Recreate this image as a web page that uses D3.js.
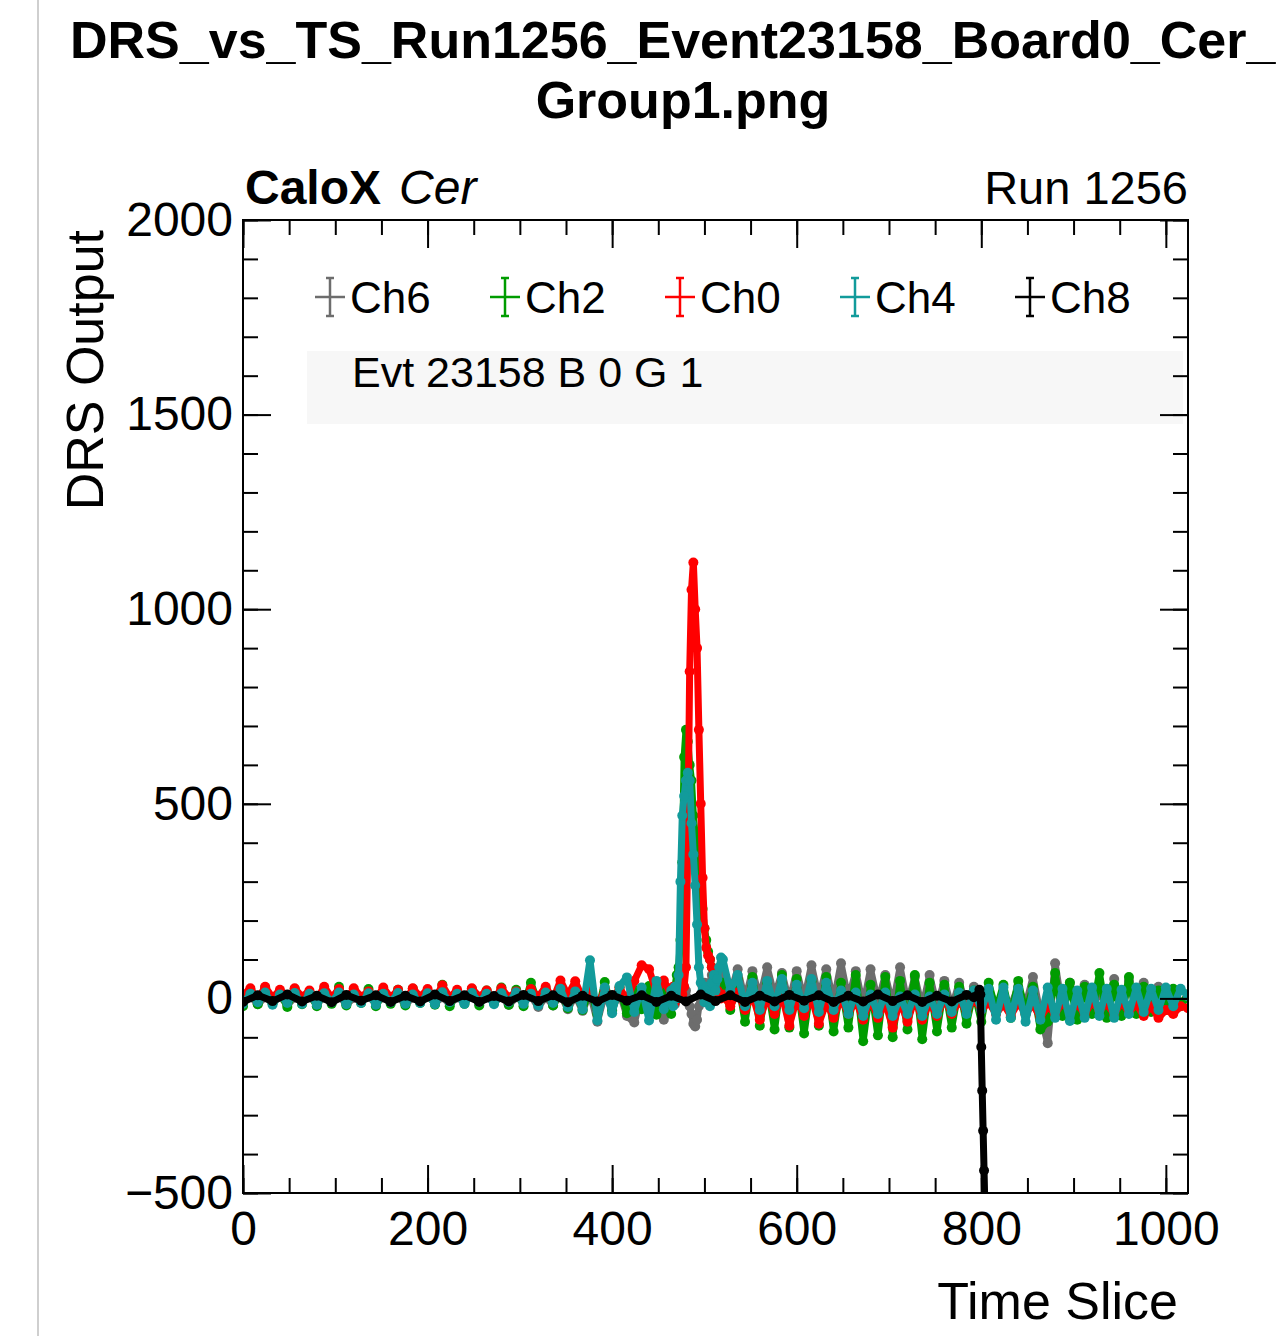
<!DOCTYPE html>
<html>
<head>
<meta charset="utf-8">
<script src="https://cdn.jsdelivr.net/npm/d3@7"></script>
<style>
  body { margin: 0; background: #fff; }
  svg { display: block; font-family: "Liberation Sans", Arial, Helvetica, sans-serif; }
</style>
</head>
<body>
<svg id="chart" width="1286" height="1336"></svg>
<script>
// channels in legend / drawing order
const channels = ["Ch6", "Ch2", "Ch0", "Ch4", "Ch8"];

// time slice grid for the analog channels (finer around the pulse)
const timeSlices = [...d3.range(0, 464, 8), ...d3.range(464, 520, 2), ...d3.range(520, 1025, 8)];

const ch6 = [
  -8, 6, -15, 3, -12, 5, -16, 2, -10, 4, -14, 3, -11, 6, -15, 1, -8, 5, -13, 3,
  -10, 4, -15, 2, -7, 6, -12, 3, -14, 2, -8, 7, -13, 3, -11, 5, -17, 3, -10, 6,
  -22, 4, -18, 10, -28, 8, -32, 15, -60, 12, -30, 18, -45, -62, 8, -28, 12, -55,
  -20, 10, -15, 5, 20, 30, 40, 30, 20, 0, -20, -40, -65, -72, -55, -20, 10, 30, 40, 30,
  20, 40, 60, 70, 50, 30, 50, 70,
  60, 10, 75, -5, 70, 0, 80, 5, 65, -10, 70, -5, 85, 0, 75, -10, 90, -5, 70, -20,
  75, -10, 60, -20, 80, -15, 55, -25, 60, -20, 45, -25, 40, -15, 30, -10, 20, -15, 10, -20,
  30, -20, 55, -40, -115, 90, -30, 40, -20, 35, -30, 20, -25, 50, -40, 45, -30, 40, -10, 30,
  -10, 20, -15, 10
];

const ch2 = [
  -20, 22, -15, 28, -12, 18, -22, 24, -15, 15, -20, 22, -14, 30, -18, 18, -12, 24, -20, 15,
  -14, 22, -18, 25, -12, 18, -16, 35, -20, 16, -14, 24, -18, 20, -12, 28, -16, 22, -20, 40,
  -14, 25, -18, 18, -25, 22, -30, 28, -40, 42, -32, 28, -38, 22, -28, 32, -42, 18,
  -40, 10, 30, 60, 80, 150, 350, 620, 690, 660, 600, 560, 470, 420, 380, 340, 280, 230, 180, 150,
  120, 100, 80, 60, 40, 20, 10, 30,
  40, -30, 50, -60, 55, -70, 40, -80, 60, -75, 50, -90, 45, -70, 55, -85, 40, -75, 60, -110,
  35, -95, 55, -100, 45, -80, 60, -105, 40, -85, 35, -75, 30, -65, 20, -60, 40, -30, 35, -50,
  45, -40, 30, -80, -60, 65, -45, 40, -55, 30, -40, 65, -50, 35, -45, 55, -40, 30, -35, 20,
  -30, 25, -20, 10
];

const ch0 = [
  8, 26, -3, 30, 2, 22, -6, 26, 4, 20, -3, 30, 2, 24, -5, 26, 4, 18, -3, 28,
  2, 22, -6, 26, 4, 24, -3, 34, 2, 22, -5, 26, 4, 20, -3, 26, 2, 18, -6, 24,
  4, 30, -3, 46, 8, 44, 0, 28, -18, 22, -8, 28, -4, 45, 85, 75, 15, 46,
  10, 30, -10, 20, 0, 20, 10, 30, 80, 400, 840, 1050, 1120, 1000, 900, 690, 500, 310, 180, 130,
  110, 100, 80, 60, 40, 20, 10, 0,
  10, -20, 15, -30, 10, -55, 5, -40, 10, -70, 0, -45, 5, -65, -10, -50, 0, -40, -5, -55,
  0, -50, -10, -75, -5, -60, 0, -55, -10, -45, 0, -40, -5, -35, 0, -30, -10, -40, -15, -45,
  -10, -40, -15, -50, -20, -40, -10, -35, -15, -40, -10, -30, -15, -40, -10, -35, -15, -45, -20, -50,
  -30, -40, -20, -25
];

const ch4 = [
  -14, 12, -10, 15, -16, 10, -12, 14, -14, 12, -16, 13, -10, 15, -15, 10, -12, 13, -16, 12,
  -10, 14, -14, 10, -12, 13, -15, 16, -10, 12, -14, 14, -10, 12, -15, 13, -10, 16, -14, 12,
  -18, 15, -12, 25, -22, 18, -28, 98, -57, 28, -38, 32, 54, -35, 28, -57, 45, -28,
  20, -20, 30, 0, 60, 300, 470, 520, 560, 580, 560, 450, 370, 290, 190, 80, 40, 20, -10, 30,
  10, -20, 40, 60, 20, 50, 80, 105,
  100, 20, 60, -20, 40, -30, 45, -20, 50, -30, 35, -25, 50, -35, 40, -30, 20, -40, 15, -45,
  10, -40, 15, -45, 5, -40, 10, -45, 5, -40, 10, -35, 15, -40, 20,
  -30, 25, -55, 28, -50, 25, -60, 20, -55, 28, -50, 25, -58, 20, -50, 28, -45, 25, -50, 22,
  -40, 28, -35, 25, -30, 28, -20, 25, 5
];

// trigger-like channel has its own sampling
const ch8Time = [...d3.range(0, 800, 16), 792, 796, 798, 799, 800, 801, 802, 803, 804, 805, 806, 810, 900, 1024];
const ch8 = [
  -9, 8, -7, 10, -8, 7, -10, 9, -6, 8, -9, 7, -8, 10, -7, 8, -9, 6, -8, 9,
  -7, 8, -10, 7, -8, 9, -6, 8, -9, 7, -8, 10, -7, 8, -9, 7, -8, 9, -6, 8,
  -9, 7, -8, 10, -7, 8, -9, 7, -8, 9,
  3, 8, 22, 10, -125, -237, -340, -442, -545, -650, -750, -800, -800, -800
];

const xTicks = [0, 200, 400, 600, 800, 1000];
const yTicks = [-500, 0, 500, 1000, 1500, 2000];

const series = [
  { name: "Ch6", color: "#6d6d6d", t: timeSlices, v: ch6 },
  { name: "Ch2", color: "#009c00", t: timeSlices, v: ch2 },
  { name: "Ch0", color: "#ff0000", t: timeSlices, v: ch0 },
  { name: "Ch4", color: "#129b9b", t: timeSlices, v: ch4 },
  { name: "Ch8", color: "#000000", t: ch8Time, v: ch8 }
];

const svg = d3.select("#chart");
const frame = { left: 243, right: 1188, top: 220, bottom: 1193 };

const x = d3.scaleLinear().domain([0, 1024]).range([frame.left, frame.right]);
const y = d3.scaleLinear().domain([-500, 2000]).range([frame.bottom, frame.top]);

// canvas edge line on the left
svg.append("line")
  .attr("x1", 38).attr("x2", 38).attr("y1", 0).attr("y2", 1336)
  .attr("stroke", "#cfcfcf").attr("stroke-width", 2);

// title
svg.append("text")
  .attr("x", 70).attr("y", 58)
  .style("font-size", "52px").style("font-weight", "bold")
  .text("DRS_vs_TS_Run1256_Event23158_Board0_Cer_");
svg.append("text")
  .attr("x", 683).attr("y", 118)
  .attr("text-anchor", "middle")
  .style("font-size", "52px").style("font-weight", "bold")
  .text("Group1.png");

// header labels
const head = svg.append("text").attr("x", 245).attr("y", 204).style("font-size", "48px");
head.append("tspan").style("font-weight", "bold").text("CaloX");
head.append("tspan").attr("dx", 18).style("font-style", "italic").text("Cer");
svg.append("text")
  .attr("x", frame.right).attr("y", 204)
  .attr("text-anchor", "end")
  .style("font-size", "47px")
  .text("Run 1256");

// clip for plot area
svg.append("clipPath").attr("id", "plotClip")
  .append("rect")
  .attr("x", frame.left).attr("y", frame.top)
  .attr("width", frame.right - frame.left).attr("height", frame.bottom - frame.top);

// info pave
svg.append("rect")
  .attr("x", 307).attr("y", 351).attr("width", 876).attr("height", 73)
  .attr("fill", "#f7f7f7");
svg.append("text")
  .attr("x", 352).attr("y", 387)
  .style("font-size", "43px")
  .text("Evt 23158 B 0 G 1");

// data
const plot = svg.append("g").attr("clip-path", "url(#plotClip)");
const line = d3.line().x(d => x(d[0])).y(d => y(d[1]));

series.forEach(s => {
  const pts = s.t.map((t, i) => [t, s.v[i]]);
  const g = plot.append("g").attr("class", "series " + s.name);
  g.append("path")
    .datum(pts)
    .attr("d", line)
    .attr("fill", "none")
    .attr("stroke", s.color)
    .attr("stroke-width", 7)
    .attr("stroke-linejoin", "round")
    .attr("stroke-linecap", "round");
  g.selectAll("circle")
    .data(pts)
    .join("circle")
    .attr("cx", d => x(d[0]))
    .attr("cy", d => y(d[1]))
    .attr("r", 5)
    .attr("fill", s.color);
});

// axes (ROOT style: ticks inside on all four sides)
const styleAxis = (g) => {
  g.select(".domain").remove();
  g.selectAll("line").attr("stroke", "#000").attr("stroke-width", 2);
  g.selectAll("text")
    .attr("fill", "#000")
    .style("font-size", "48px")
    .style("font-family", "'Liberation Sans', Arial, Helvetica, sans-serif");
};

const fmt = d3.format("d");
const xMinor = d3.range(0, 1025, 50);
const yMinor = d3.range(-500, 2001, 100);

svg.append("g")
  .attr("transform", `translate(0,${frame.bottom})`)
  .call(d3.axisBottom(x).tickValues(xMinor).tickSize(-15).tickFormat(""))
  .call(styleAxis);
svg.append("g")
  .attr("transform", `translate(0,${frame.bottom})`)
  .call(d3.axisBottom(x).tickValues(xTicks).tickSize(-28).tickPadding(18).tickFormat(fmt))
  .call(styleAxis);
svg.append("g")
  .attr("transform", `translate(0,${frame.top})`)
  .call(d3.axisTop(x).tickValues(xMinor).tickSize(-15).tickFormat(""))
  .call(styleAxis);
svg.append("g")
  .attr("transform", `translate(0,${frame.top})`)
  .call(d3.axisTop(x).tickValues(xTicks).tickSize(-28).tickFormat(""))
  .call(styleAxis);

svg.append("g")
  .attr("transform", `translate(${frame.left},0)`)
  .call(d3.axisLeft(y).tickValues(yMinor).tickSize(-15).tickFormat(""))
  .call(styleAxis);
svg.append("g")
  .attr("transform", `translate(${frame.left},0)`)
  .call(d3.axisLeft(y).tickValues(yTicks).tickSize(-28).tickPadding(10).tickFormat(fmt))
  .call(styleAxis);
svg.append("g")
  .attr("transform", `translate(${frame.right},0)`)
  .call(d3.axisRight(y).tickValues(yMinor).tickSize(-15).tickFormat(""))
  .call(styleAxis);
svg.append("g")
  .attr("transform", `translate(${frame.right},0)`)
  .call(d3.axisRight(y).tickValues(yTicks).tickSize(-28).tickFormat(""))
  .call(styleAxis);

// frame
svg.append("rect")
  .attr("x", frame.left).attr("y", frame.top)
  .attr("width", frame.right - frame.left).attr("height", frame.bottom - frame.top)
  .attr("fill", "none").attr("stroke", "#000").attr("stroke-width", 2);

// axis titles
svg.append("text")
  .attr("transform", "translate(103,230) rotate(-90)")
  .attr("text-anchor", "end")
  .style("font-size", "52px")
  .text("DRS Output");
svg.append("text")
  .attr("x", 1178).attr("y", 1319)
  .attr("text-anchor", "end")
  .style("font-size", "52px")
  .text("Time Slice");

// legend
const lx = d3.scalePoint().domain(channels).range([330, 1030]);
const legendY = 297;
const leg = svg.append("g").selectAll("g")
  .data(series)
  .join("g")
  .attr("transform", d => `translate(${lx(d.name)},${legendY})`);
leg.append("line").attr("x1", -15).attr("x2", 15).attr("y1", 0).attr("y2", 0)
  .attr("stroke", d => d.color).attr("stroke-width", 2.5);
leg.append("line").attr("x1", 0).attr("x2", 0).attr("y1", -19).attr("y2", 19)
  .attr("stroke", d => d.color).attr("stroke-width", 2.5);
leg.append("line").attr("x1", -4).attr("x2", 4).attr("y1", -19).attr("y2", -19)
  .attr("stroke", d => d.color).attr("stroke-width", 2.5);
leg.append("line").attr("x1", -4).attr("x2", 4).attr("y1", 19).attr("y2", 19)
  .attr("stroke", d => d.color).attr("stroke-width", 2.5);
leg.append("text")
  .attr("x", 20).attr("y", 16)
  .style("font-size", "44px")
  .text(d => d.name);
</script>
</body>
</html>
